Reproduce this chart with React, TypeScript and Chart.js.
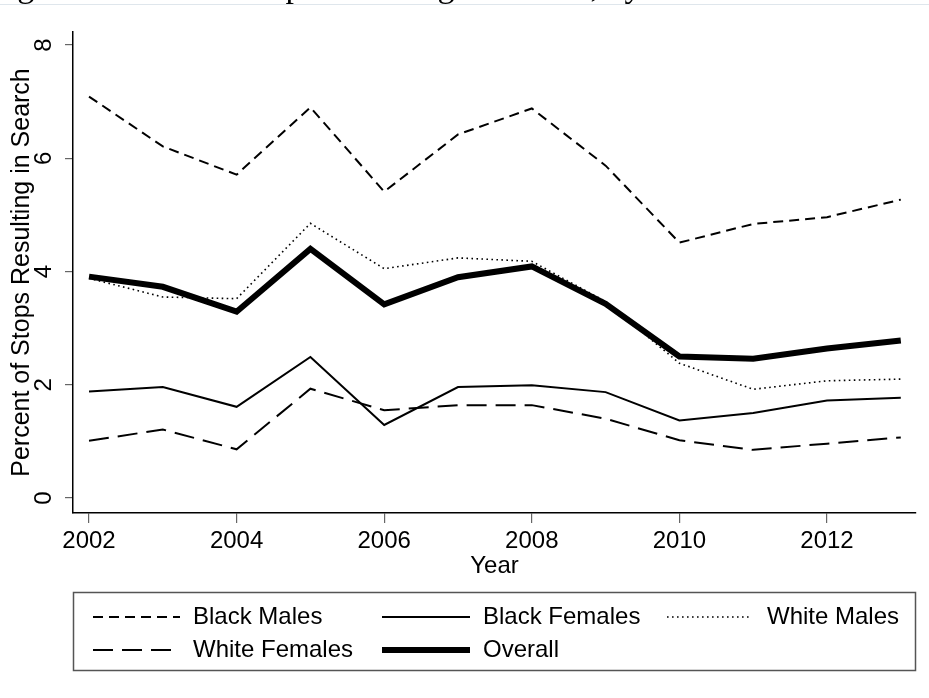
import React, { useEffect, useRef, useState } from 'react';
import { Chart, registerables } from 'chart.js';

Chart.register(...registerables);

// ---------- data ----------
const years = [2002, 2003, 2004, 2005, 2006, 2007, 2008, 2009, 2010, 2011, 2012, 2013];
const xTickValues = [2002, 2004, 2006, 2008, 2010, 2012];
const yTickValues = [0, 2, 4, 6, 8];

const blackMales = [7.09, 6.21, 5.71, 6.9, 5.41, 6.42, 6.88, 5.87, 4.51, 4.84, 4.96, 5.27];
const blackFemales = [1.88, 1.96, 1.61, 2.49, 1.29, 1.96, 1.99, 1.87, 1.37, 1.5, 1.72, 1.77];
const whiteMales = [3.88, 3.55, 3.52, 4.85, 4.05, 4.24, 4.18, 3.47, 2.38, 1.92, 2.07, 2.1];
const whiteFemales = [1.01, 1.21, 0.86, 1.93, 1.55, 1.64, 1.64, 1.4, 1.02, 0.85, 0.96, 1.07];
const overall = [3.91, 3.73, 3.29, 4.4, 3.42, 3.9, 4.09, 3.43, 2.5, 2.46, 2.64, 2.78];

const seriesLabels = ['Black Males', 'Black Females', 'White Males', 'White Females', 'Overall'];
const xTitle = 'Year';
const yTitle = 'Percent of Stops Resulting in Search';
const figureTitle =
  'Figure 2. Trends Regarding the Percent of Stops Resulting in Search, by Race and Gender';

const SANS = '"Liberation Sans", Arial, sans-serif';

const toPoints = (vals: number[]) => years.map((x, i) => ({ x, y: vals[i] }));

// legend slots (layout only)
const legendSlots = [
  { x0: 93, x1: 180, tx: 193, y: 617 },
  { x0: 382, x1: 470, tx: 483, y: 617 },
  { x0: 667, x1: 752, tx: 767, y: 617 },
  { x0: 93, x1: 180, tx: 193, y: 650 },
  { x0: 382, x1: 470, tx: 483, y: 650 },
];

const legendPlugin = {
  id: 'stataLegend',
  afterDraw(chart: any) {
    const ctx = chart.ctx as CanvasRenderingContext2D;
    ctx.save();
    ctx.strokeStyle = '#555';
    ctx.lineWidth = 1.5;
    ctx.setLineDash([]);
    ctx.strokeRect(73.5, 592.5, 842, 78);
    chart.data.datasets.forEach((ds: any, i: number) => {
      const s = legendSlots[i];
      if (!s) return;
      ctx.beginPath();
      ctx.strokeStyle = ds.borderColor;
      ctx.lineWidth = ds.borderWidth;
      ctx.setLineDash(ds.borderDash || []);
      ctx.lineCap = 'butt';
      ctx.moveTo(s.x0, s.y);
      ctx.lineTo(s.x1, s.y);
      ctx.stroke();
      ctx.setLineDash([]);
      ctx.fillStyle = '#000';
      ctx.font = `24px ${SANS}`;
      ctx.textBaseline = 'middle';
      ctx.textAlign = 'left';
      ctx.fillText(ds.label, s.tx, s.y);
    });
    ctx.restore();
  },
};

export default function App() {
  const canvasRef = useRef<HTMLCanvasElement>(null);
  const [titleLeft, setTitleLeft] = useState(0);

  useEffect(() => {
    const m = document.createElement('canvas').getContext('2d');
    if (m) {
      m.font = '34px "Liberation Serif"';
      const prefix = figureTitle.slice(0, figureTitle.indexOf('Stops') + 3);
      setTitleLeft(286 - m.measureText(prefix).width);
    }
  }, []);

  useEffect(() => {
    if (!canvasRef.current) return;
    const chart = new Chart(canvasRef.current, {
      type: 'line',
      data: {
        datasets: [
          {
            label: seriesLabels[0],
            data: toPoints(blackMales),
            borderColor: '#000',
            borderWidth: 2,
            borderDash: [10, 6],
          },
          {
            label: seriesLabels[1],
            data: toPoints(blackFemales),
            borderColor: '#000',
            borderWidth: 2,
            borderDash: [],
          },
          {
            label: seriesLabels[2],
            data: toPoints(whiteMales),
            borderColor: '#000',
            borderWidth: 1.6,
            borderDash: [1.6, 3.4],
          },
          {
            label: seriesLabels[3],
            data: toPoints(whiteFemales),
            borderColor: '#000',
            borderWidth: 2,
            borderDash: [20, 9],
          },
          {
            label: seriesLabels[4],
            data: toPoints(overall),
            borderColor: '#000',
            borderWidth: 6,
            borderDash: [],
          },
        ] as any,
      },
      options: {
        animation: false,
        responsive: false,
        devicePixelRatio: 1,
        elements: {
          point: { radius: 0, hoverRadius: 0 },
          line: { tension: 0, borderCapStyle: 'butt', borderJoinStyle: 'miter', fill: false },
        },
        layout: { padding: { left: 0, top: 32, right: 13, bottom: 115 } },
        plugins: {
          legend: { display: false },
          tooltip: { enabled: false },
          title: { display: false },
        },
        scales: {
          x: {
            type: 'linear',
            min: 2001.783,
            max: 2013.206,
            afterBuildTicks: (s: any) => {
              s.ticks = xTickValues.map((v) => ({ value: v }));
            },
            afterFit: (s: any) => {
              s.height = 70;
            },
            border: { display: true, color: '#000', width: 1.5 },
            grid: {
              drawOnChartArea: false,
              drawTicks: true,
              tickLength: 10,
              color: '#666',
              lineWidth: 1.2,
            },
            ticks: {
              padding: 4,
              minRotation: 0,
              maxRotation: 0,
              autoSkip: false,
              color: '#000',
              font: { family: SANS, size: 24 },
              callback: (v: any) => String(v),
            },
            title: {
              display: true,
              text: xTitle,
              color: '#000',
              font: { family: SANS, size: 24 },
              padding: { top: 0, bottom: 2 },
            },
          },
          y: {
            type: 'linear',
            min: -0.265,
            max: 8.23,
            afterBuildTicks: (s: any) => {
              s.ticks = yTickValues.map((v) => ({ value: v }));
            },
            afterFit: (s: any) => {
              s.width = 73;
            },
            border: { display: true, color: '#000', width: 1.5 },
            grid: {
              drawOnChartArea: false,
              drawTicks: true,
              tickLength: 8,
              color: '#666',
              lineWidth: 1.2,
            },
            ticks: {
              minRotation: 90,
              maxRotation: 90,
              crossAlign: 'center',
              padding: 14,
              autoSkip: false,
              color: '#000',
              font: { family: SANS, size: 24 },
              callback: (v: any) => String(v),
            },
            title: {
              display: true,
              text: yTitle,
              color: '#000',
              font: { family: SANS, size: 25 },
              padding: { top: 7, bottom: 0 },
            },
          },
        },
      } as any,
      plugins: [legendPlugin],
    });
    return () => chart.destroy();
  }, []);

  return (
    <div
      style={{
        position: 'fixed',
        left: 0,
        top: 0,
        width: 929,
        height: 698,
        background: '#fff',
        overflow: 'hidden',
      }}
    >
      <canvas
        ref={canvasRef}
        width={929}
        height={698}
        style={{ position: 'absolute', left: 0, top: 0, width: 929, height: 698, display: 'block' }}
      />
      <div
        style={{
          position: 'absolute',
          left: 0,
          top: 0,
          width: 929,
          height: 4,
          overflow: 'hidden',
        }}
      >
        <span
          style={{
            position: 'absolute',
            left: titleLeft,
            top: -31.5,
            whiteSpace: 'nowrap',
            fontFamily: '"Liberation Serif", "Times New Roman", serif',
            fontSize: 34,
            lineHeight: '34px',
            color: '#000',
          }}
        >
          {figureTitle}
        </span>
      </div>
      <div
        style={{
          position: 'absolute',
          left: 0,
          top: 4,
          width: 929,
          height: 1,
          background: '#dfe6ec',
        }}
      />
    </div>
  );
}
